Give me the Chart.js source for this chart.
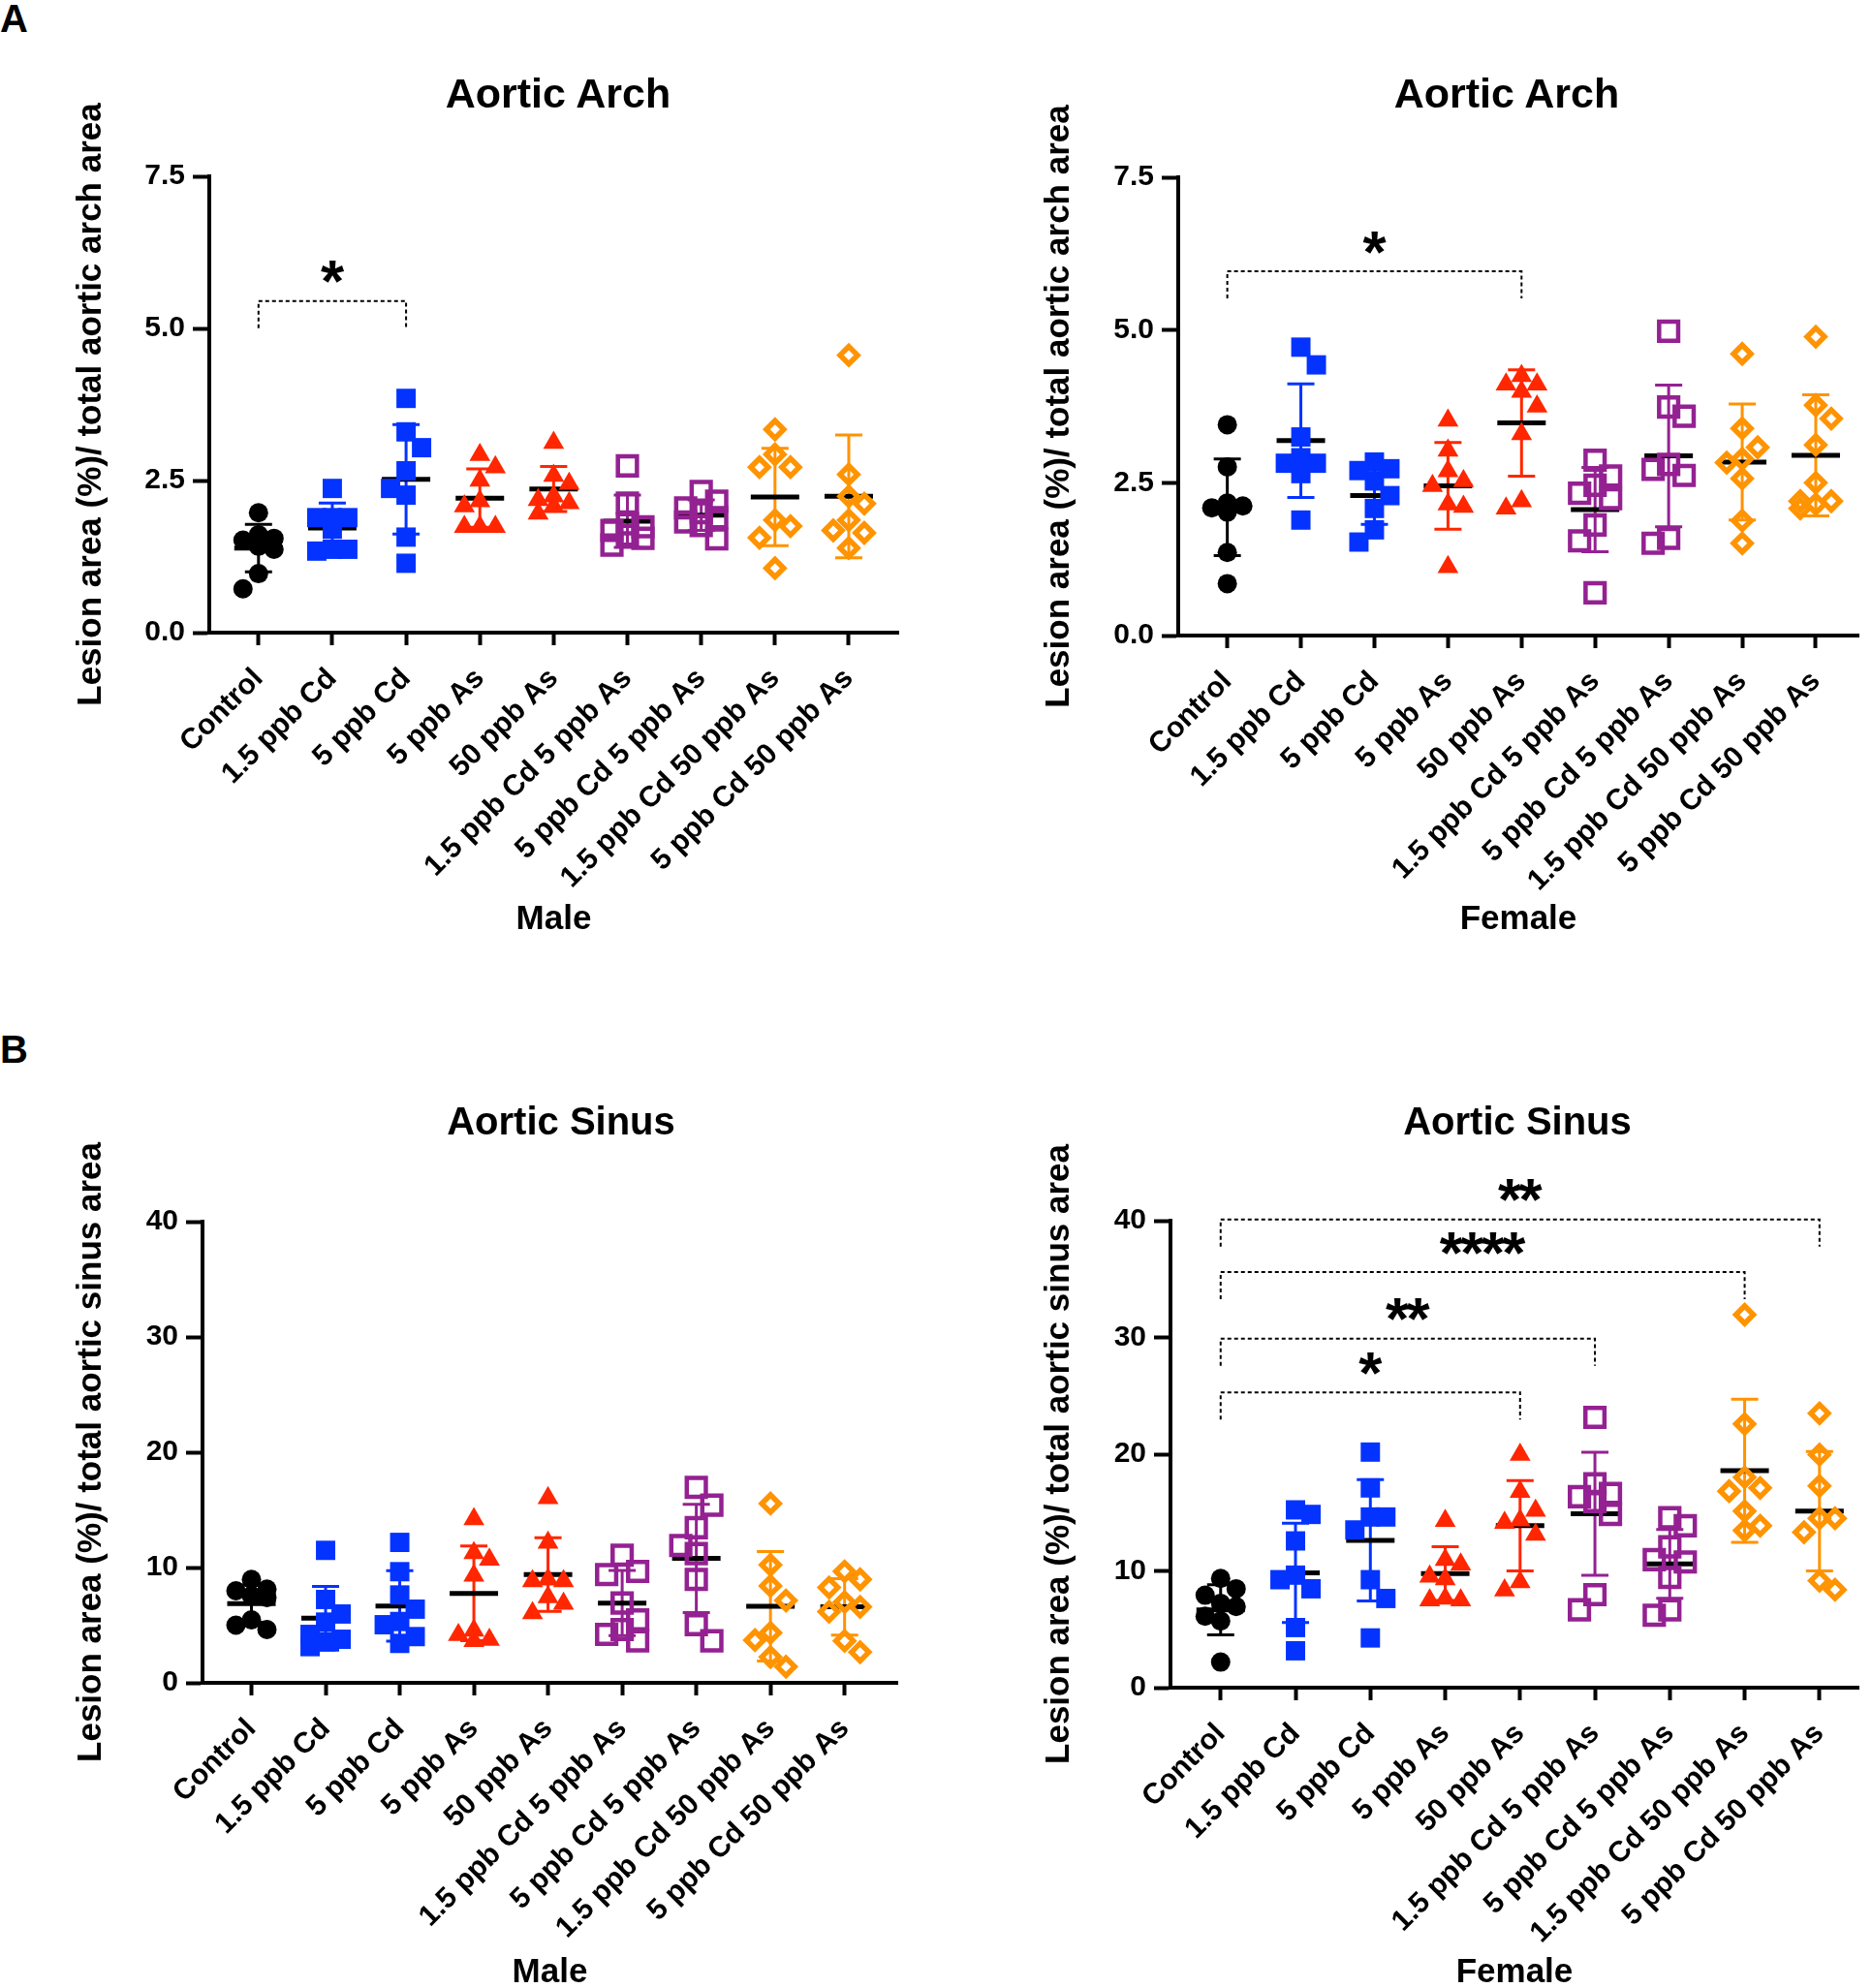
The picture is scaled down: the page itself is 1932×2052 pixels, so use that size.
<!DOCTYPE html>
<html lang="en">
<head>
  <meta charset="UTF-8" />
  <title>Lesion area - Aortic Arch / Aortic Sinus</title>
  <script src="https://cdn.jsdelivr.net/npm/chart.js"></script>
  <style>
    html, body {
      margin: 0;
      padding: 0;
      background: #ffffff;
      width: 1932px;
      height: 2052px;
      overflow: hidden;
      position: relative;
      font-family: "Liberation Sans", Arial, Helvetica, sans-serif;
    }
    .panel-letter {
      position: absolute;
      left: 0;
      font-size: 40px;
      font-weight: bold;
      line-height: 1;
      color: #000;
    }
    .panel-title {
      position: absolute;
      width: 600px;
      text-align: center;
      font-weight: bold;
      line-height: 1;
      color: #000;
      z-index: 2;
    }
  </style>
</head>
<body>
  <div class="panel-letter" style="top:-1px">A</div>
  <div class="panel-letter" style="top:1063px">B</div>
  <div class="panel-title" style="left:276px;top:75px;font-size:43px">Aortic Arch</div>
  <div class="panel-title" style="left:1255px;top:75px;font-size:43px">Aortic Arch</div>
  <div class="panel-title" style="left:279px;top:1137px;font-size:40px">Aortic Sinus</div>
  <div class="panel-title" style="left:1266px;top:1137px;font-size:40px">Aortic Sinus</div>

  <script>
    // ---- data ----
    const groups = ['Control', '1.5 ppb Cd', '5 ppb Cd', '5 ppb As', '50 ppb As',
      '1.5 ppb Cd 5 ppb As', '5 ppb Cd 5 ppb As', '1.5 ppb Cd 50 ppb As', '5 ppb Cd 50 ppb As'];

    const archTicks = [0, 2.5, 5, 7.5];
    const sinusTicks = [0, 10, 20, 30, 40];

    // aortic arch, male
    const maleArch = [
      [1.97, 1.61, 1.55, 1.52, 1.42, 1.37, 0.97, 0.72],
      [2.37, 1.89, 1.89, 1.89, 1.70, 1.37, 1.37, 1.34],
      [3.85, 3.30, 3.04, 2.66, 2.37, 2.26, 1.57, 1.14],
      [2.92, 2.72, 2.50, 2.16, 2.08, 1.74, 1.74, 1.74],
      [3.12, 2.58, 2.45, 2.24, 2.18, 2.13, 2.08, 1.96],
      [2.74, 2.13, 1.79, 1.74, 1.68, 1.60, 1.55, 1.44],
      [2.32, 2.16, 2.05, 1.97, 1.89, 1.82, 1.76, 1.54],
      [3.34, 2.93, 2.72, 2.72, 1.85, 1.75, 1.56, 1.06],
      [4.56, 2.60, 2.24, 2.12, 1.85, 1.68, 1.64, 1.39]
    ];
    const maleArchMean = [1.39, 1.72, 2.52, 2.21, 2.36, 1.83, 1.93, 2.23, 2.24];
    const maleArchSD = [0.39, 0.41, 0.90, 0.48, 0.37, 0.43, 0.25, 0.80, 1.01];
    const maleArchSig = [[0, 2, '*', 5.45]];

    // aortic arch, female
    const femaleArch = [
      [3.45, 2.76, 2.17, 2.12, 2.09, 2.02, 1.36, 0.85],
      [4.72, 4.43, 3.25, 2.91, 2.82, 2.82, 2.65, 1.89],
      [2.84, 2.73, 2.70, 2.53, 2.29, 2.08, 1.73, 1.53],
      [3.52, 3.03, 2.69, 2.53, 2.45, 2.15, 2.11, 1.12],
      [4.25, 4.11, 4.11, 3.99, 3.75, 3.30, 2.20, 2.08],
      [2.87, 2.61, 2.46, 2.33, 2.24, 1.81, 1.55, 0.70],
      [4.98, 3.74, 3.59, 2.80, 2.72, 2.62, 1.59, 1.51],
      [4.61, 3.39, 3.08, 2.89, 2.83, 2.57, 1.88, 1.51],
      [4.89, 3.77, 3.55, 3.12, 2.50, 2.20, 2.20, 2.15, 2.08]
    ];
    const femaleArchMean = [2.10, 3.19, 2.29, 2.45, 3.48, 2.06, 2.94, 2.84, 2.95];
    const femaleArchSD = [0.79, 0.93, 0.47, 0.71, 0.87, 0.69, 1.16, 0.95, 0.99];
    const femaleArchSig = [[0, 4, '*', 5.96]];

    // aortic sinus, male
    const maleSinus = [
      [8.97, 8.12, 7.98, 7.56, 7.40, 5.46, 5.00, 4.62],
      [11.49, 7.23, 5.97, 5.27, 4.20, 3.78, 3.56, 3.14],
      [12.18, 9.64, 7.62, 6.39, 5.32, 5.04, 4.01, 3.42],
      [14.20, 11.26, 10.70, 9.30, 4.54, 4.15, 3.73, 3.64],
      [16.03, 12.16, 8.97, 8.82, 8.82, 7.43, 6.87, 6.05],
      [11.07, 9.66, 9.39, 6.92, 5.46, 4.62, 4.20, 3.64],
      [16.95, 15.41, 13.45, 11.91, 11.21, 8.97, 5.04, 3.64],
      [15.55, 10.23, 8.41, 7.14, 4.34, 3.70, 2.24, 1.40],
      [9.66, 8.97, 8.27, 7.01, 6.59, 6.17, 3.64, 2.66]
    ];
    const maleSinusMean = [6.87, 5.60, 6.67, 7.76, 9.39, 6.92, 10.79, 6.64, 6.59];
    const maleSinusSD = [1.62, 2.77, 3.05, 4.10, 3.20, 2.83, 4.70, 4.75, 2.45];
    const maleSinusSig = [];

    // aortic sinus, female
    const femaleSinus = [
      [9.36, 8.47, 7.92, 7.23, 6.95, 6.12, 5.71, 2.19],
      [15.23, 14.84, 12.57, 9.64, 9.25, 8.47, 5.15, 3.16],
      [20.18, 17.11, 14.62, 14.62, 13.51, 9.25, 7.64, 4.26],
      [14.29, 10.96, 10.55, 9.53, 9.30, 7.64, 7.50, 7.50],
      [19.96, 16.78, 15.17, 14.34, 14.12, 13.12, 9.05, 8.33],
      [23.15, 17.47, 16.64, 16.36, 15.95, 14.84, 7.97, 6.67],
      [14.56, 13.87, 12.07, 10.96, 10.77, 9.44, 6.67, 6.20],
      [31.95, 22.59, 18.02, 17.11, 16.83, 15.12, 13.87, 13.46],
      [23.50, 19.96, 17.28, 14.51, 14.51, 13.31, 9.16, 8.39]
    ];
    const femaleSinusMean = [6.67, 9.83, 12.62, 9.77, 13.87, 14.89, 10.60, 18.58, 15.12];
    const femaleSinusSD = [2.15, 4.25, 5.20, 2.30, 3.87, 5.27, 2.95, 6.13, 5.11];
    const femaleSinusSig = [[0, 4, '*', 25.3], [0, 5, '**', 29.9], [0, 7, '****', 35.6], [0, 8, '**', 40.1]];

    // ---- styles ----
    const groupColors = ['#000000', '#0433FF', '#0433FF', '#FF2600', '#FF2600',
      '#942192', '#942192', '#FF9300', '#FF9300'];
    const groupShapes = ['circle', 'rect', 'rect', 'triangle', 'triangle', 'rect', 'rect', 'rectRot', 'rectRot'];
    const groupOpen = [false, false, false, false, false, true, true, true, true];
    const shapeRadius = { circle: 10, rect: 14.1, triangle: 12.5, openrect: 13.9, openrectRot: 9 };
    const FONT = '"Liberation Sans", Arial, Helvetica, sans-serif';

    Chart.defaults.font.family = FONT;
    Chart.defaults.font.weight = 'bold';
    Chart.defaults.color = '#000';

    // layout of the four panels (canvas box, padding, axis sizes, x range)
    const panels = [
      { id: 'maleArch', left: 0, top: 0, w: 966, h: 1030, pad: { top: 182, left: 73, right: 39, bottom: 60 },
        yW: 143, xH: 317, xMin: -0.667, xMax: 8.67,
        values: maleArch, means: maleArchMean, sds: maleArchSD, sig: maleArchSig,
        ticks: archTicks, dec: 1, yTitle: 'Lesion area (%)/ total aortic arch area', xTitle: 'Male' },
      { id: 'femaleArch', left: 966, top: 0, w: 990, h: 1030, pad: { top: 183, left: 106, right: 38, bottom: 60 },
        yW: 144, xH: 314, xMin: -0.667, xMax: 8.58,
        values: femaleArch, means: femaleArchMean, sds: femaleArchSD, sig: femaleArchSig,
        ticks: archTicks, dec: 1, yTitle: 'Lesion area (%)/ total aortic arch area', xTitle: 'Female' },
      { id: 'maleSinus', left: 0, top: 1040, w: 966, h: 1030, pad: { top: 221, left: 73, right: 40, bottom: 13 },
        yW: 136, xH: 320, xMin: -0.66, xMax: 8.71,
        values: maleSinus, means: maleSinusMean, sds: maleSinusSD, sig: maleSinusSig,
        ticks: sinusTicks, dec: 0, yTitle: 'Lesion area (%)/ total aortic sinus area', xTitle: 'Male' },
      { id: 'femaleSinus', left: 966, top: 1040, w: 990, h: 1030, pad: { top: 220, left: 106, right: 38, bottom: 13 },
        yW: 136, xH: 315, xMin: -0.67, xMax: 8.52,
        values: femaleSinus, means: femaleSinusMean, sds: femaleSinusSD, sig: femaleSinusSig,
        ticks: sinusTicks, dec: 0, yTitle: 'Lesion area (%)/ total aortic sinus area', xTitle: 'Female' }
    ];
    const panelById = {};
    panels.forEach(p => { panelById[p.id] = p; });

    // spread overlapping points sideways: up to three columns 16px apart
    function swarm(vals, pxPerY, pxPerX) {
      const placed = [];
      let side = 1;
      return vals.map(v => {
        const py = v * pxPerY;
        let best = 0, bestGap = -1;
        for (const col of [0, side, -side]) {
          const same = placed.filter(p => p.col === col).map(p => Math.abs(p.py - py));
          const gap = same.length ? Math.min(...same) : Infinity;
          if (gap >= 20) { best = col; break; }
          if (gap > bestGap) { best = col; bestGap = gap; }
        }
        if (best !== 0) side = -best;
        placed.push({ col: best, py });
        return best * 16 / pxPerX;
      });
    }

    // mean line + SD error bars under the points, significance brackets on top
    const statsPlugin = {
      id: 'groupStats',
      beforeDatasetsDraw(chart) {
        const p = panelById[chart.canvas.id];
        const { ctx } = chart;
        const x = chart.scales.x, y = chart.scales.y;
        ctx.save();
        ctx.lineCap = 'butt';
        p.means.forEach((m, i) => {
          const cx = x.getPixelForValue(i);
          const yt = y.getPixelForValue(m + p.sds[i]);
          const yb = y.getPixelForValue(m - p.sds[i]);
          ctx.strokeStyle = groupColors[i];
          ctx.lineWidth = 3;
          ctx.beginPath();
          ctx.moveTo(cx, yt); ctx.lineTo(cx, yb);
          ctx.moveTo(cx - 14, yt); ctx.lineTo(cx + 14, yt);
          ctx.moveTo(cx - 14, yb); ctx.lineTo(cx + 14, yb);
          ctx.stroke();
          const ym = y.getPixelForValue(m);
          ctx.strokeStyle = '#000';
          ctx.lineWidth = 5;
          ctx.beginPath();
          ctx.moveTo(cx - 25, ym); ctx.lineTo(cx + 25, ym);
          ctx.stroke();
        });
        ctx.restore();
      },
      afterDraw(chart) {
        const p = panelById[chart.canvas.id];
        const { ctx } = chart;
        const x = chart.scales.x, y = chart.scales.y;
        ctx.save();
        p.sig.forEach(([from, to, label, level]) => {
          const x1 = x.getPixelForValue(from), x2 = x.getPixelForValue(to);
          const yl = y.getPixelForValue(level);
          ctx.strokeStyle = '#000';
          ctx.lineWidth = 2;
          ctx.setLineDash([4, 3]);
          ctx.beginPath();
          ctx.moveTo(x1, yl + 28); ctx.lineTo(x1, yl); ctx.lineTo(x2, yl); ctx.lineTo(x2, yl + 28);
          ctx.stroke();
          ctx.setLineDash([]);
          ctx.fillStyle = '#000';
          ctx.font = 'bold 62px ' + FONT;
          ctx.textAlign = 'center';
          ctx.textBaseline = 'alphabetic';
          const m = ctx.measureText('*');
          const off = (m.actualBoundingBoxAscent - m.actualBoundingBoxDescent) / 2;
          const mid = (x1 + x2) / 2;
          const n = label.length;
          for (let k = 0; k < n; k++) {
            ctx.fillText(label[k], mid + (k - (n - 1) / 2) * 21.5, yl - 30 + off);
          }
        });
        ctx.restore();
      }
    };

    function makeChart(p) {
      const canvas = document.createElement('canvas');
      canvas.id = p.id;
      canvas.width = p.w;
      canvas.height = p.h;
      canvas.style.cssText = `position:absolute;left:${p.left}px;top:${p.top}px;width:${p.w}px;height:${p.h}px;z-index:1`;
      document.body.appendChild(canvas);

      const areaH = p.h - p.pad.top - p.pad.bottom - p.xH;
      const areaW = p.w - p.pad.left - p.pad.right - p.yW;
      const yMax = p.ticks[p.ticks.length - 1];
      const pxY = areaH / yMax;
      const pxX = areaW / (p.xMax - p.xMin);

      const datasets = p.values.map((vals, i) => {
        const offs = swarm(vals, pxY, pxX);
        const shape = groupShapes[i];
        const open = groupOpen[i];
        const r = open ? shapeRadius['open' + shape] : shapeRadius[shape];
        const bw = open ? (shape === 'rectRot' ? 5.5 : 4.5) : 0;
        return {
          label: groups[i],
          data: vals.map((v, j) => ({ x: i + offs[j], y: v })),
          pointStyle: shape,
          pointRadius: r,
          pointHoverRadius: r,
          backgroundColor: open ? 'rgba(0,0,0,0)' : groupColors[i],
          borderColor: groupColors[i],
          borderWidth: bw,
          pointBorderWidth: bw
        };
      });

      return new Chart(canvas, {
        type: 'scatter',
        data: { datasets },
        options: {
          responsive: false,
          animation: false,
          events: [],
          layout: { padding: p.pad },
          plugins: { legend: { display: false }, tooltip: { enabled: false } },
          scales: {
            x: {
              type: 'linear',
              bounds: 'data',
              min: p.xMin,
              max: p.xMax,
              afterBuildTicks: s => { s.ticks = groups.map((g, i) => ({ value: i })); },
              afterFit: s => { s.height = p.xH; },
              ticks: {
                autoSkip: false,
                maxRotation: 45,
                minRotation: 45,
                padding: 17,
                color: '#000',
                font: { size: 30, weight: 'bold' },
                callback: v => groups[v]
              },
              grid: { drawOnChartArea: false, drawTicks: true, tickLength: 13, tickWidth: 4, tickColor: '#000' },
              border: { display: true, color: '#000', width: 4 },
              title: { display: true, text: p.xTitle, color: '#000', padding: 0, font: { size: 35, weight: 'bold' } }
            },
            y: {
              type: 'linear',
              bounds: 'data',
              min: 0,
              max: yMax,
              afterBuildTicks: s => { s.ticks = p.ticks.map(v => ({ value: v })); },
              afterFit: s => { s.width = p.yW; },
              ticks: {
                padding: 8,
                color: '#000',
                font: { size: 30, weight: 'bold' },
                callback: v => v.toFixed(p.dec)
              },
              grid: { drawOnChartArea: false, drawTicks: true, tickLength: 17, tickWidth: 4, tickColor: '#000' },
              border: { display: true, color: '#000', width: 4 },
              title: { display: true, text: p.yTitle, color: '#000', padding: 0, font: { size: 35, weight: 'bold' } }
            }
          }
        },
        plugins: [statsPlugin]
      });
    }

    panels.forEach(makeChart);
  </script>
</body>
</html>
